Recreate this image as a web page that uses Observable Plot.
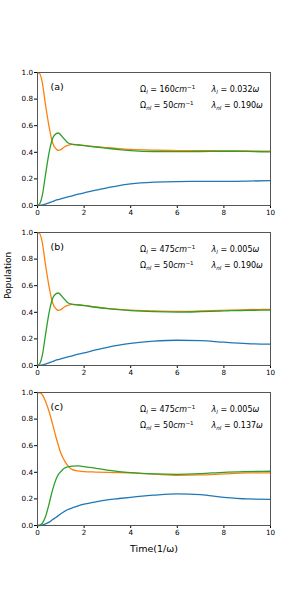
<!DOCTYPE html>
<html><head><meta charset="utf-8">
<script src="https://cdn.jsdelivr.net/npm/d3@7"></script>
<script src="https://cdn.jsdelivr.net/npm/@observablehq/plot@0.6"></script>
<style>
body{margin:0;background:#fff}
#chart{position:relative;width:300px;height:600px;background:#fff;font-family:"DejaVu Sans",sans-serif}
#chart svg{position:absolute;left:0}
</style>
</head><body><div id="chart"></div>
<script>
const time = [0,0.1,0.2,0.35,0.5,0.65,0.8,0.9,1.0,1.15,1.3,1.5,1.75,2,2.5,3,3.5,4,5,6,7,8,9,10];

const aBlue   = [0,0.001,0.004,0.012,0.02,0.03,0.04,0.045,0.05,0.058,0.065,0.073,0.085,0.095,0.115,0.133,0.15,0.162,0.175,0.18,0.181,0.181,0.183,0.187];
const aOrange = [1.0,0.99,0.93,0.75,0.59,0.47,0.425,0.415,0.42,0.44,0.452,0.46,0.458,0.452,0.442,0.435,0.428,0.422,0.416,0.413,0.412,0.411,0.41,0.408];
const aGreen  = [0,0.015,0.07,0.24,0.40,0.505,0.54,0.545,0.53,0.5,0.472,0.46,0.455,0.45,0.44,0.43,0.42,0.413,0.406,0.405,0.406,0.408,0.407,0.403];

const bBlue   = [0,0.001,0.004,0.012,0.02,0.03,0.04,0.045,0.05,0.058,0.065,0.073,0.085,0.095,0.117,0.137,0.153,0.166,0.183,0.19,0.187,0.175,0.165,0.16];
const bOrange = [1.0,0.99,0.93,0.75,0.59,0.47,0.425,0.415,0.42,0.44,0.452,0.46,0.458,0.452,0.44,0.43,0.422,0.416,0.41,0.407,0.41,0.415,0.42,0.422];
const bGreen  = [0,0.015,0.07,0.24,0.40,0.505,0.54,0.545,0.53,0.5,0.472,0.46,0.455,0.45,0.438,0.428,0.42,0.413,0.405,0.402,0.405,0.41,0.415,0.416];

const cBlue   = [0,0,0.003,0.012,0.025,0.045,0.062,0.075,0.088,0.105,0.12,0.133,0.148,0.16,0.178,0.193,0.203,0.212,0.228,0.238,0.232,0.212,0.2,0.197];
const cOrange = [1.0,0.997,0.985,0.93,0.855,0.76,0.66,0.6,0.545,0.49,0.45,0.42,0.41,0.405,0.402,0.4,0.398,0.395,0.387,0.378,0.38,0.388,0.395,0.396];
const cGreen  = [0,0.003,0.015,0.07,0.165,0.27,0.35,0.385,0.405,0.43,0.44,0.447,0.448,0.443,0.43,0.417,0.405,0.397,0.388,0.385,0.39,0.4,0.405,0.408];

const xTicks = [0,2,4,6,8,10];
const yTicks = [0,0.2,0.4,0.6,0.8,1.0];
const panelLabels = ["(a)","(b)","(c)"];
// markup: _{..} subscript (italic), ^{..} superscript, *..* italic
const omegaL  = ["Ω_{l} = 160*cm*^{−1}","Ω_{l} = 475*cm*^{−1}","Ω_{l} = 475*cm*^{−1}"];
const lambdaL = ["*λ*_{l} = 0.032*ω*","*λ*_{l} = 0.005*ω*","*λ*_{l} = 0.005*ω*"];
const omegaNL = ["Ω_{nl} = 50*cm*^{−1}","Ω_{nl} = 50*cm*^{−1}","Ω_{nl} = 50*cm*^{−1}"];
const lambdaNL = ["*λ*_{nl} = 0.190*ω*","*λ*_{nl} = 0.190*ω*","*λ*_{nl} = 0.137*ω*"];
const yLabel = "Population";
const xLabel = "Time(1/ω)";

const seriesNames = ["blue","orange","green"];
const colors = {blue:"#1f77b4", orange:"#ff7f0e", green:"#2ca02c"};
const panels = [[aBlue,aOrange,aGreen],[bBlue,bOrange,bGreen],[cBlue,cOrange,cGreen]];
const tops = [60,220,380];
const eqSize = 8;

function rich(el) {
  const s = el.textContent;
  if (!/[_^*]/.test(s)) return;
  el.textContent = "";
  const re = /_\{([^}]*)\}|\^\{([^}]*)\}|\*([^*]*)\*|([^_^*]+)/g;
  let m, cur = 0;
  while ((m = re.exec(s))) {
    const t = document.createElementNS("http://www.w3.org/2000/svg", "tspan");
    let off = 0;
    if (m[1] !== undefined) { t.textContent = m[1]; t.setAttribute("font-size", eqSize * 0.7); t.setAttribute("font-style", "italic"); off = 2; }
    else if (m[2] !== undefined) { t.textContent = m[2]; t.setAttribute("font-size", eqSize * 0.7); off = -3; }
    else if (m[3] !== undefined) { t.textContent = m[3]; t.setAttribute("font-style", "italic"); }
    else { t.textContent = m[4]; }
    if (off !== cur) { t.setAttribute("dy", off - cur); cur = off; }
    el.appendChild(t);
  }
}

const chart = document.getElementById("chart");
panels.forEach((ser, i) => {
  const rows = [];
  ser.forEach((vals, k) => vals.forEach((v, j) => rows.push({t: time[j], v, s: seriesNames[k]})));
  const last = i === 2;
  const eq = {textAnchor: "start", fontSize: eqSize, text: d => d};
  const marks = [
    Plot.axisX({ticks: xTicks, tickSize: 3, tickPadding: 1, label: null, tickFormat: d3.format("d")}),
    Plot.axisY({ticks: yTicks, tickSize: 3, tickPadding: 1.5, label: null, tickFormat: d3.format(".1f")}),
    Plot.line(rows, {x: "t", y: "v", z: "s", stroke: d => colors[d.s], strokeWidth: 1.3, curve: "monotone-x"}),
    Plot.frame({stroke: "#555", strokeWidth: 1}),
    Plot.text([panelLabels[i]], {frameAnchor: "top-left", dx: 13, dy: 11, text: d => d, textAnchor: "start", fontSize: 9.5}),
    Plot.text([omegaL[i]], {...eq, x: 4.4, y: 0.875}),
    Plot.text([lambdaL[i]], {...eq, x: 7.47, y: 0.875}),
    Plot.text([omegaNL[i]], {...eq, x: 4.4, y: 0.755}),
    Plot.text([lambdaNL[i]], {...eq, x: 7.47, y: 0.755})
  ];
  if (i === 1) marks.push(Plot.text([yLabel], {frameAnchor: "left", dx: -29, rotate: -90, text: d => d, fontSize: 9}));
  if (last) marks.push(Plot.text([xLabel], {frameAnchor: "bottom", dy: 26, text: d => d, fontSize: 9.5}));
  const svg = Plot.plot({
    width: 300, height: last ? 180 : 160,
    marginLeft: 37, marginRight: 30, marginTop: 12, marginBottom: last ? 35 : 15,
    x: {domain: [0, 10]}, y: {domain: [0, 1]},
    style: {fontFamily: "DejaVu Sans", fontSize: "7.2px", background: "transparent", color: "#000", overflow: "visible"},
    marks
  });
  svg.querySelectorAll("text").forEach(rich);
  svg.style.top = tops[i] + "px";
  chart.appendChild(svg);
});
</script></body></html>
